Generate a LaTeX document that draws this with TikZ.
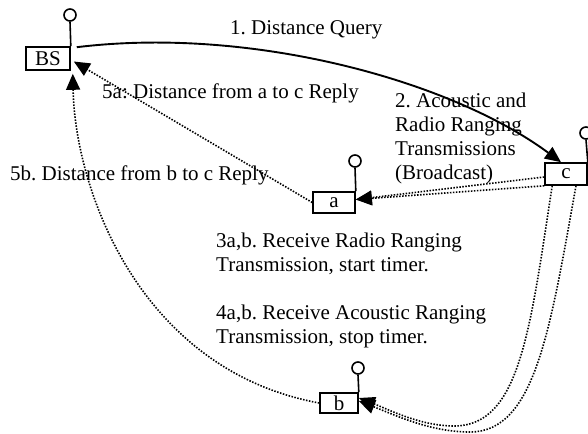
\documentclass[tikz,border=0pt]{standalone}
\usepackage{fontspec}
\setmainfont{Liberation Serif}
\usetikzlibrary{arrows.meta}
\frenchspacing
% multi-line label whose reference point is the first baseline
\newcommand\txtblock[1]{\begin{tabular}[t]{@{}l@{}}#1\end{tabular}}
\begin{document}
\begin{tikzpicture}[x=1pt,y=-1pt,
  every node/.style={font=\fontsize{21}{24}\selectfont},
  station/.style={draw, line width=1.6pt, inner sep=0pt, minimum height=22pt},
  ant/.style={circle, draw, line width=1.6pt, minimum size=12pt, inner sep=0pt},
  mast/.style={line width=1.6pt},
  lbl/.style={anchor=base west, inner sep=0pt},
  tip/.style={-{Triangle[length=16pt,width=14pt]}},
  query/.style={tip, line width=1.9pt},
  radio/.style={tip, line width=1.6pt, dash pattern=on 1.5pt off 1.5pt}
]
\useasboundingbox (0,0) rectangle (588,433);

% stations with their antennas
\node[station, minimum width=44pt, minimum height=23pt] (BS) at (48,58.5) {BS};
\node[station, minimum width=42pt, minimum height=21pt] (a) at (334,202.5) {a};
\node[station, minimum width=38pt, minimum height=20pt] (b) at (339,403) {b};
\node[station, minimum width=42pt, minimum height=22pt] (c) at (566,174) {c};

\node[ant] (BSant) at (70,15) {};
\node[ant] (aant) at (355,161) {};
\node[ant] (bant) at (358,368) {};
\node[ant] (cant) at (586,133) {};
\draw[mast] (BSant.south) -- (BS.north east);
\draw[mast] (aant.south) -- (a.north east);
\draw[mast] (bant.south) -- (b.north east);
\draw[mast] (cant.south) -- (c.north east);

% labels
\node[lbl] (l1) at (230,35) {1. Distance Query};
\node[lbl] (l2) at (395,107) {\txtblock{2. Acoustic and\\Radio Ranging\\Transmissions\\(Broadcast)}};
\node[lbl] (l5a) at (102,99) {5a: Distance from a to c Reply};
\node[lbl] (l5b) at (10,180) {5b. Distance from b to c Reply};
\node[lbl] (l3) at (216,247) {\txtblock{3a,b. Receive Radio Ranging\\Transmission, start timer.}};
\node[lbl] (l4) at (216,319) {\txtblock{4a,b. Receive Acoustic Ranging\\Transmission, stop timer.}};

% 1. query from BS to c
\draw[query] ([xshift=6pt,yshift=-1pt]BS.north east)
  .. controls (250,26) and (450,80) .. ([xshift=-5pt]c.north);

% 2. radio and acoustic transmissions from c
\draw[radio] ([yshift=-3pt]c.west) -- ([yshift=3pt]a.east);
\draw[radio] (c.south west) -- ([yshift=3pt]a.east);
\draw[radio] ([xshift=8pt]c.south west)
  .. controls (530,330) and (520,425) .. (455,426)
  .. controls (420,426) and (390,410) .. ([yshift=5pt]b.east);
\draw[radio] ([xshift=10pt]c.south)
  .. controls (550,330) and (535,432) .. (470,432)
  .. controls (430,432) and (395,415) .. ([yshift=2pt]b.east);

% 5. replies to BS
\draw[radio] (a.west) -- ([xshift=3pt,yshift=-3pt]BS.east);
\draw[radio] (b.west)
  .. controls (140,370) and (75,190) .. ([xshift=2pt,yshift=-3pt]BS.south east);
\end{tikzpicture}
\end{document}
